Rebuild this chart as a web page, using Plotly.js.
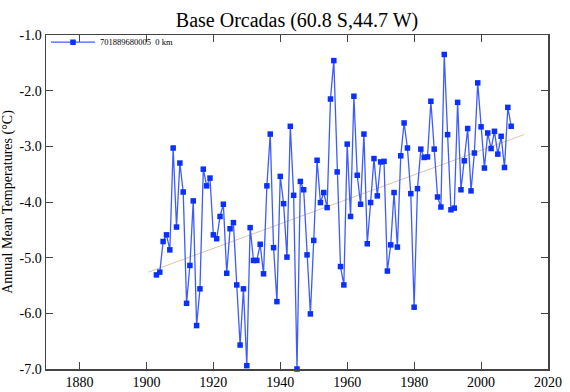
<!DOCTYPE html>
<html>
<head>
<meta charset="utf-8">
<script src="https://cdn.plot.ly/plotly-3.0.1.min.js"></script>
<style>html,body{margin:0;padding:0;background:#fff;}#chart{width:570px;height:392px;}</style>
</head>
<body>
<div id="chart"></div>
<script>
var years = [1903,1904,1905,1906,1907,1908,1909,1910,1911,1912,1913,1914,1915,1916,1917,1918,1919,1920,
1921,1922,1923,1924,1925,1926,1927,1928,1929,1930,1931,1932,1933,1934,1935,1936,1937,1938,1939,1940,
1941,1942,1943,1944,1945,1946,1947,1948,1949,1950,1951,1952,1953,1954,1955,1956,1957,1958,1959,1960,
1961,1962,1963,1964,1965,1966,1967,1968,1969,1970,1971,1972,1973,1974,1975,1976,1977,1978,1979,1980,
1981,1982,1983,1984,1985,1986,1987,1988,1989,1990,1991,1992,1993,1994,1995,1996,1997,1998,1999,2000,
2001,2002,2003,2004,2005,2006,2007,2008,2009];
var temps = [-5.31,-5.26,-4.71,-4.59,-4.86,-3.03,-4.45,-3.30,-3.82,-5.82,-5.14,-3.98,-6.22,-5.56,-3.41,-3.71,-3.57,-4.59,
-4.66,-4.26,-4.04,-5.28,-4.48,-4.37,-5.49,-6.57,-5.56,-6.94,-4.46,-5.05,-5.05,-4.76,-5.29,-3.71,-2.78,-4.82,-5.79,-3.54,
-4.03,-4.99,-2.64,-3.88,-7.00,-3.63,-3.78,-4.95,-6.01,-4.69,-3.25,-4.01,-3.83,-4.10,-2.15,-1.46,-3.46,-5.16,-5.49,-2.96,
-4.26,-2.10,-3.52,-4.04,-2.78,-4.75,-4.01,-3.22,-3.89,-3.28,-3.27,-5.24,-4.77,-3.83,-4.81,-3.17,-2.58,-3.03,-3.85,-5.89,
-3.76,-3.05,-3.20,-3.19,-2.19,-3.05,-3.91,-4.09,-1.35,-2.79,-4.14,-4.11,-2.21,-3.78,-3.26,-2.68,-3.80,-3.12,-1.86,-2.65,
-3.39,-2.76,-3.04,-2.73,-3.14,-2.82,-3.38,-2.30,-2.64];
var trendYears = [1900.6, 2012.8];
var trendVals = [-5.26, -2.79];
var seriesName = "701889680005  0 km";
var chartTitle = "Base Orcadas (60.8 S,44.7 W)";
var yTitle = "Annual Mean Temperatures (\u00B0C)";
var yTickVals = [-1,-2,-3,-4,-5,-6,-7];
var yTickText = ["-1.0","-2.0","-3.0","-4.0","-5.0","-6.0","-7.0"];
var xTickVals = [1880,1900,1920,1940,1960,1980,2000,2020];

var font = "Liberation Serif";
var traces = [
  {x: trendYears, y: trendVals, mode: "lines", line: {color: "#d9c6a5", width: 1}, showlegend: false, hoverinfo: "skip"},
  {x: years, y: temps, mode: "lines+markers", name: seriesName, cliponaxis: false,
   line: {color: "#3d5cff", width: 1.3},
   marker: {symbol: "square", size: 5.5, color: "#0a30ff", line: {width: 0}}}
];
function axis(extra){
  var a = {showgrid: false, zeroline: false, showline: true, linecolor: "#444", linewidth: 1.5,
    mirror: "ticks", ticks: "inside", ticklen: 7, tickwidth: 1, tickcolor: "#444",
    tickfont: {family: font, size: 14, color: "#000"}};
  return Object.assign(a, extra);
}
var layout = {
  width: 570, height: 392,
  margin: {l: 46, r: 22, t: 35, b: 23, pad: 0},
  paper_bgcolor: "#fff", plot_bgcolor: "#fff",
  title: {text: chartTitle, font: {family: font, size: 20, color: "#000"}, x: 0.5, xref: "paper", xanchor: "center", y: 1 - 20/392, yref: "container", yanchor: "middle"},
  xaxis: axis({range: [1870, 2020], tickmode: "array", tickvals: xTickVals}),
  yaxis: axis({range: [-7, -1], tickmode: "array", tickvals: yTickVals, ticktext: yTickText,
    title: {text: yTitle, font: {family: font, size: 14, color: "#000"}, standoff: 4}}),
  showlegend: true,
  legend: {x: 0, y: 1.022, xanchor: "left", yanchor: "top", bgcolor: "rgba(0,0,0,0)", borderwidth: 0,
    font: {family: font, size: 8.5, color: "#000"}, itemwidth: 44, tracegroupgap: 0}
};
Plotly.newPlot("chart", traces, layout, {staticPlot: true, displayModeBar: false});
</script>
</body>
</html>
